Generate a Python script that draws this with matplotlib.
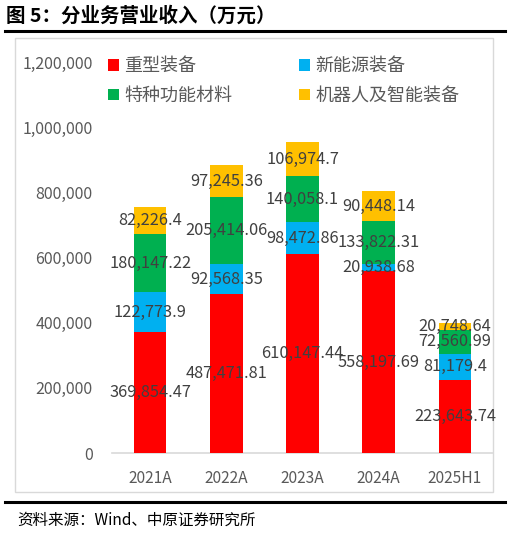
import matplotlib
matplotlib.use("Agg")
import matplotlib.pyplot as plt
from matplotlib.patches import Rectangle, Patch
from matplotlib.lines import Line2D
import matplotlib.ticker as mticker

plt.rcParams['font.family'] = ['Noto Sans CJK SC', 'DejaVu Sans']

categories = ["2021A", "2022A", "2023A", "2024A", "2025H1"]
heavy = [369854.47, 487471.81, 610147.44, 558197.69, 223643.74]
new_energy = [122773.9, 92568.35, 98472.86, 20938.68, 81179.4]
special = [180147.22, 205414.06, 140058.1, 133822.31, 72560.99]
robot = [82226.4, 97245.36, 106974.7, 90448.14, 20748.64]

series_names = ["重型装备", "新能源装备", "特种功能材料", "机器人及智能装备"]
series = [heavy, new_energy, special, robot]
colors = ["#FF0000", "#00B0F0", "#00B050", "#FFC000"]

W, H = 510, 533
fig = plt.figure(figsize=(W / 100, H / 100), dpi=100)

def fx(px):
    return px / W

def fy(py):
    return 1 - py / H

# title and rules
fig.text(fx(6), fy(16), "图 5：分业务营业收入（万元）", fontsize=14, fontweight='heavy',
         va='center', ha='left', color='black')
fig.add_artist(Line2D([fx(5), fx(505)], [fy(31), fy(31)], color='black', lw=2.2))
fig.add_artist(Line2D([fx(5), fx(505)], [fy(502), fy(502)], color='black', lw=2.2))
fig.text(fx(17), fy(520), "资料来源：Wind、中原证券研究所", fontsize=11.2,
         va='center', ha='left', color='black')

# chart frame (behind the axes)
frame = Rectangle((fx(15), fy(492)), fx(493) - fx(15), fy(38) - fy(492),
                  transform=fig.transFigure, facecolor='white',
                  edgecolor='#D9D9D9', lw=1.0, zorder=-5)
fig.patches.append(frame)

ax = fig.add_axes([fx(112), fy(453), fx(493) - fx(112), fy(62) - fy(453)])
ax.set_facecolor('none')

x = range(len(categories))
bottom = [0] * len(categories)
for name, vals, c in zip(series_names, series, colors):
    ax.bar(x, vals, bottom=bottom, color=c, width=0.43, label=name, zorder=3)
    for i, v in enumerate(vals):
        ax.text(i, bottom[i] + v / 2, f"{v:,.2f}".rstrip('0').rstrip('.'),
                ha='center', va='center', fontsize=11.8, color='#404040', zorder=4)
    bottom = [b + v for b, v in zip(bottom, vals)]

ax.set_ylim(0, 1200000)
ax.set_xlim(-0.5, len(categories) - 0.5)
ax.set_yticks(range(0, 1200001, 200000))
ax.yaxis.set_major_formatter(mticker.FuncFormatter(lambda v, p: f"{int(v):,}"))
ax.set_xticks(list(x))
ax.set_xticklabels(categories)
ax.tick_params(axis='y', length=0, labelsize=11.5, labelcolor='#595959', pad=14)
ax.tick_params(axis='x', length=0, labelsize=11.2, labelcolor='#595959', pad=12)
for s in ['top', 'right', 'left']:
    ax.spines[s].set_visible(False)
ax.spines['bottom'].set_color('#D9D9D9')
ax.spines['bottom'].set_linewidth(1.2)

# legend filled row by row like the original
order = [0, 2, 1, 3]
handles = [Patch(facecolor=colors[k], edgecolor='none') for k in order]
labels = [series_names[k] for k in order]
fig.legend(handles, labels, loc='upper left', bbox_to_anchor=(fx(92), fy(41)),
           ncol=2, frameon=False, fontsize=13, labelcolor='#595959',
           handlelength=0.6, handleheight=0.6, handletextpad=0.3,
           columnspacing=3.7, labelspacing=0.65)

fig.savefig("out.png", dpi=100)
